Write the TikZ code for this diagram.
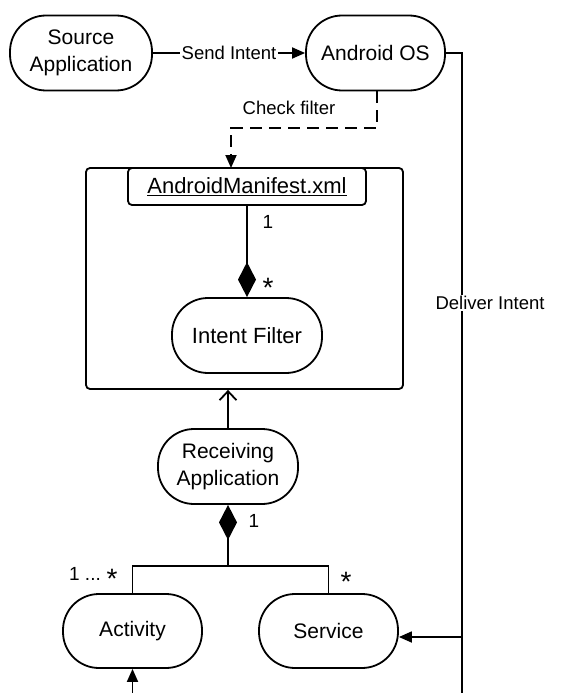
\documentclass[tikz,border=0pt]{standalone}
\usepackage{fontspec}
\setmainfont{Liberation Sans}
\usetikzlibrary{arrows.meta,calc}
\begin{document}
\begin{tikzpicture}[x=1pt,y=-1pt,
  lw/.style={line width=1.8pt},
  stadium/.style={draw,lw,rounded corners=36pt,align=center,inner sep=0pt,
    font=\fontsize{21}{27}\selectfont},
  lbl/.style={font=\fontsize{18.5}{22}\selectfont,fill=white,inner sep=1.5pt},
  mult/.style={font=\fontsize{19}{22}\selectfont,inner sep=0pt},
  star/.style={font=\fontsize{28}{28}\selectfont,inner sep=0pt},
  tri/.style={-{Triangle[length=13pt,width=11pt]}},
  comp/.style={{Diamond[length=35pt,width=18pt]}-},
]
\useasboundingbox (0,0) rectangle (560,693);
% nodes
\node[stadium,minimum width=142pt,minimum height=75pt] (src) at (81,53) {Source\\Application};
\node[stadium,minimum width=139pt,minimum height=75pt] (os) at (375.5,53) {Android OS};
\node[draw,lw,rounded corners=4pt,minimum width=317pt,minimum height=221pt] (pkg) at (244.5,278.5) {};
\node[draw,lw,rounded corners=4pt,minimum width=238pt,minimum height=37pt,inner sep=0pt,
  font=\fontsize{22}{26}\selectfont] (man) at (247,186.5) {\underline{AndroidManifest.xml}};
\node[stadium,minimum width=150pt,minimum height=75pt,font=\fontsize{22}{27}\selectfont] (filt) at (247,335.5) {Intent Filter};
\node[stadium,minimum width=140pt,minimum height=75pt] (recv) at (228,466.5) {Receiving\\Application};
\node[stadium,minimum width=139pt,minimum height=74pt] (act) at (132.5,631) {Activity};
\node[stadium,minimum width=139pt,minimum height=74pt] (svc) at (328.5,631) {Service};
% coordinates
\coordinate (bus) at (462,53);
\coordinate (busend) at (462,693);
\coordinate (svcin) at ($(svc.east)+(0,6)$);
\coordinate (cf1) at (377,128);
\coordinate (cfend) at (231,168);
\coordinate (junc) at (228,566);
\coordinate (actin) at (132.5,693);
% connectors
\draw[lw,tri] (src.east) -- node[lbl]{Send Intent} (os.west);
\draw[lw] (os.east) -- (bus) -- (busend);
\node[lbl] (deliver) at (490,303) {Deliver Intent};
\draw[lw,tri] (bus |- svcin) -- (svcin);
\draw[lw,dash pattern=on 12pt off 7pt,tri] (os.south -| cf1) -- (cf1) -| (cfend);
\node[lbl] (check) at (289,108) {Check filter};
\draw[lw,comp] (filt.north) -- (man.south);
\node[mult] (m1) at (268,222) {1};
\node[star] (m2) at (268,288) {*};
\draw[lw,-{Straight Barb[length=9pt,width=17pt]}] (recv.north) -- (pkg.south -| recv.north);
\draw[lw,comp] (recv.south) -- (junc);
\draw[lw] (act.north) |- (junc) -| (svc.north);
\node[mult] (m3) at (254,521) {1};
\node[mult] (m4a) at (85,574) {1 ...};
\node[star] (m4b) at (112,579) {*};
\node[star] (m5) at (346,582) {*};
\draw[lw,tri] (actin) -- (act.south);
\end{tikzpicture}
\end{document}
